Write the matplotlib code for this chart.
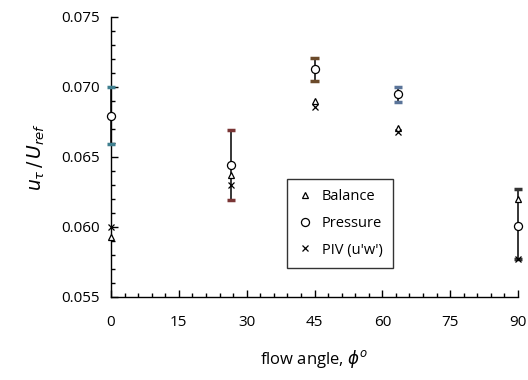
import matplotlib
matplotlib.use("Agg")
import matplotlib.pyplot as plt
from matplotlib.ticker import MultipleLocator

angles = [0.0, 26.6, 45.0, 63.4, 90.0]
balance = [0.0593, 0.0637, 0.0690, 0.0671, 0.0620]
pressure = [0.0679, 0.0644, 0.0713, 0.0695, 0.0601]
piv = [0.0600, 0.0630, 0.0686, 0.0668, 0.0577]
err_low = [0.0659, 0.0619, 0.0704, 0.0689, 0.0577]
err_high = [0.0700, 0.0669, 0.0721, 0.0700, 0.0627]
cap_colors = ["#3f7f8f", "#7a3535", "#6b4a2a", "#5a7499", "#333333"]

plt.rcParams['font.family'] = ['Open Sans', 'DejaVu Sans']
plt.rcParams['mathtext.fontset'] = 'dejavusans'

fig = plt.figure(figsize=(5.28, 3.80), dpi=100)
ax = fig.add_axes([111/528, 1 - 297/380, (518-111)/528, (297-17)/380])

for x, lo, hi, c in zip(angles, err_low, err_high, cap_colors):
    ax.plot([x, x], [lo, hi], color='black', lw=1.1, zorder=2, clip_on=False)
    ax.plot([x - 0.9, x + 0.9], [lo, lo], color=c, lw=2.5, solid_capstyle='butt', zorder=3, clip_on=False)
    ax.plot([x - 0.9, x + 0.9], [hi, hi], color=c, lw=2.5, solid_capstyle='butt', zorder=3, clip_on=False)

ax.plot(angles, balance, linestyle='none', marker='^', markersize=5, mfc='white', mec='black', mew=0.9, label='Balance', zorder=4, clip_on=False)
ax.plot(angles, pressure, linestyle='none', marker='o', markersize=5.8, mfc='white', mec='black', mew=0.9, label='Pressure', zorder=4, clip_on=False)
ax.plot(angles, piv, linestyle='none', marker='x', markersize=5, color='black', mew=0.9, label="PIV (u'w')", zorder=5, clip_on=False)

ax.set_xlim(0, 90)
ax.set_ylim(0.055, 0.075)
ax.xaxis.set_major_locator(MultipleLocator(15))
ax.xaxis.set_minor_locator(MultipleLocator(3))
ax.yaxis.set_major_locator(MultipleLocator(0.005))
ax.yaxis.set_minor_locator(MultipleLocator(0.001))
ax.yaxis.set_major_formatter(matplotlib.ticker.FormatStrFormatter('%.3f'))
ax.spines['top'].set_visible(False)
ax.spines['right'].set_visible(False)
for s in ['left', 'bottom']:
    ax.spines[s].set_linewidth(1.0)
ax.tick_params(which='both', direction='in', width=1.0)
ax.tick_params(which='major', length=5, labelsize=11, pad=13)
ax.tick_params(which='minor', length=3)
ax.tick_params(axis='y', which='major', pad=8)

ax.set_xlabel(r"flow angle, $\phi^o$", fontsize=12, labelpad=13)
ax.set_ylabel(r"$u_\tau\,/\,U_{ref}$", fontsize=13.5, labelpad=10)

leg = ax.legend(loc='upper left', bbox_to_anchor=((287-111)/407, (297-179)/280), frameon=True,
                fancybox=False, edgecolor='black', fontsize=10.5, handlelength=1.0,
                handletextpad=0.7, labelspacing=0.8, borderpad=0.7, borderaxespad=0)
leg.get_frame().set_linewidth(1.0)

fig.savefig("out.png", dpi=100)
